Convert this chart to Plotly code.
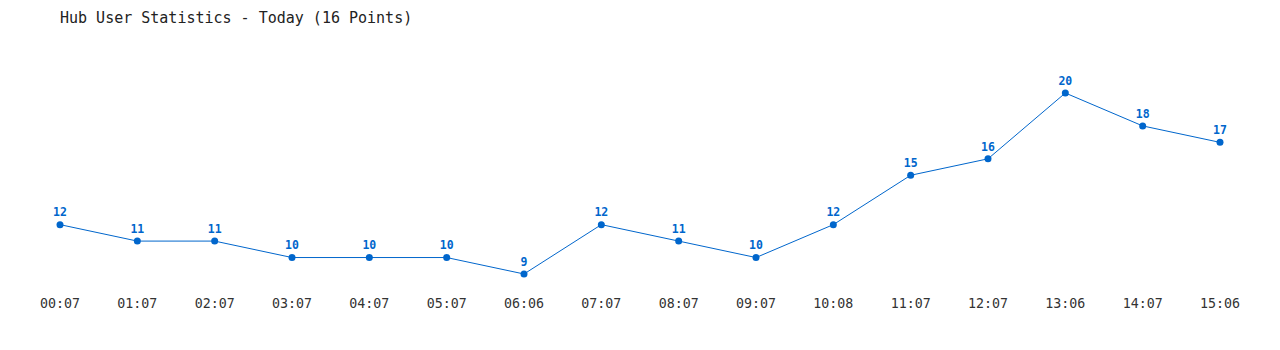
import plotly.graph_objects as go

times = ["00:07", "01:07", "02:07", "03:07", "04:07", "05:07", "06:06", "07:07",
         "08:07", "09:07", "10:08", "11:07", "12:07", "13:06", "14:07", "15:06"]
users = [12, 11, 11, 10, 10, 10, 9, 12, 11, 10, 12, 15, 16, 20, 18, 17]

idx = list(range(len(times)))
color = "#0066cc"
font = "DejaVu Sans Mono, Liberation Mono, monospace"

fig = go.Figure(go.Scatter(
    x=idx, y=users, mode="lines+markers+text",
    line=dict(color=color, width=1),
    marker=dict(color=color, size=7),
    text=[str(u) for u in users], textposition="top center",
    textfont=dict(family=font, size=11.5, color=color, weight="bold"),
    hoverinfo="skip",
))

fig.update_layout(
    width=1280, height=350,
    margin=dict(l=60, r=60, t=60, b=60),
    paper_bgcolor="white", plot_bgcolor="white",
    showlegend=False,
    title=dict(text="Hub User Statistics - Today (16 Points)", x=60/1280, xanchor="left",
               y=1-18/350, yanchor="middle",
               font=dict(family=font, size=15, color="#222")),
    xaxis=dict(range=[0, 15], tickvals=idx, ticktext=times, showgrid=False, zeroline=False,
               showline=False, ticks="", ticklabelstandoff=4,
               tickfont=dict(family=font, size=13.3, color="#333")),
    yaxis=dict(range=[8.027, 22.006], showgrid=False, zeroline=False, showline=False,
               showticklabels=False, ticks=""),
)
fig.update_xaxes(automargin=False)
fig.update_yaxes(automargin=False)
fig.update_traces(cliponaxis=False)

fig.write_html("out.html")
